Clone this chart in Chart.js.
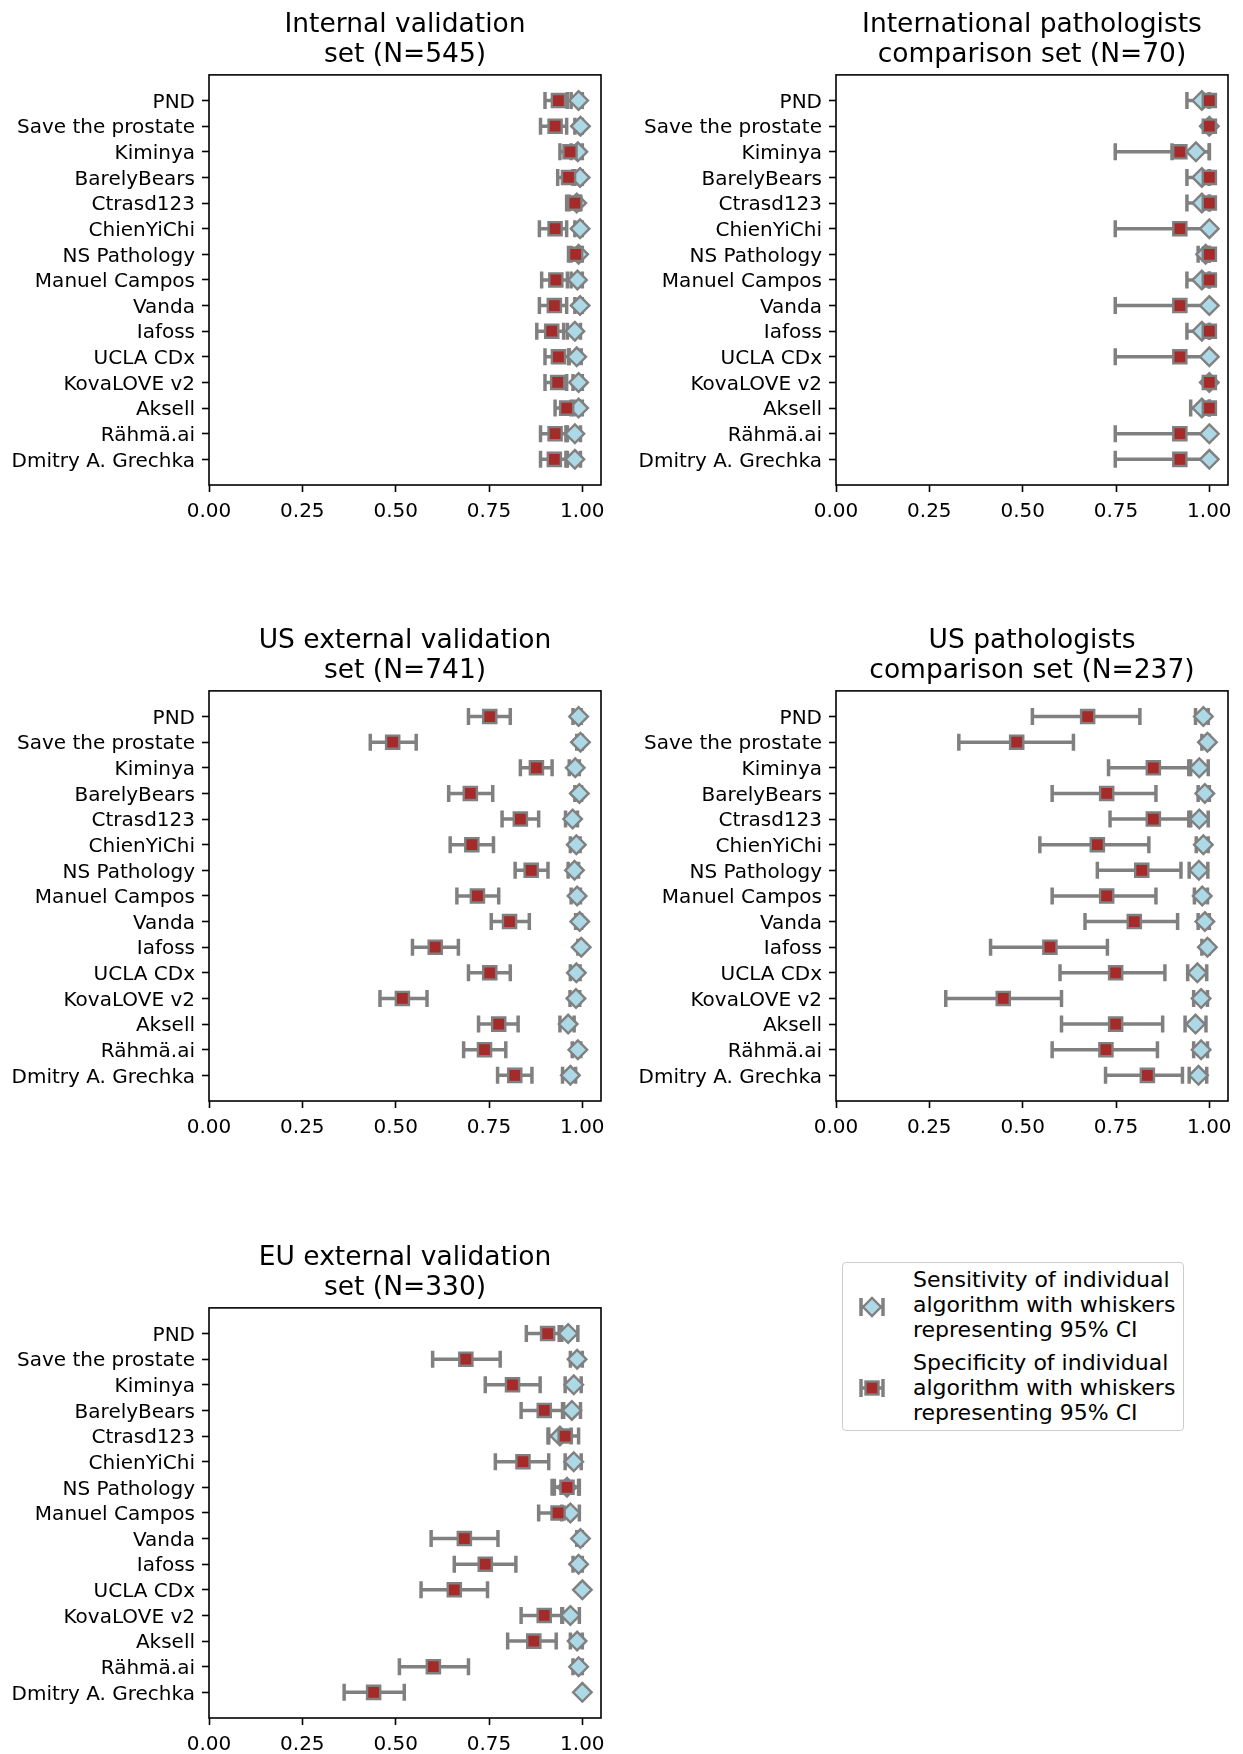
<!DOCTYPE html>
<html>
<head>
<meta charset="utf-8">
<script src="https://cdn.jsdelivr.net/npm/chart.js@4.4.1/dist/chart.umd.min.js"></script>
<style>
  body { margin: 0; width: 1243px; height: 1754px; position: relative; overflow: hidden; background: #fff; font-family: 'DejaVu Sans', sans-serif; }
  canvas { position: absolute; }
  #legend { position: absolute; left: 842px; top: 1262px; width: 340px; height: 167px; border: 1.6px solid #cccccc; border-radius: 4px; }
  .lbl { position: absolute; left: 913px; font-size: 22px; line-height: 25px; color: #000; white-space: nowrap; }
  .mk { position: absolute; }
</style>
</head>
<body>
<canvas id="internal"></canvas>
<canvas id="intl"></canvas>
<canvas id="usExt"></canvas>
<canvas id="usPath"></canvas>
<canvas id="eu"></canvas>

<div id="legend"></div>
<svg class="mk" style="left:852px;top:1294px" width="40" height="26">
  <g stroke="gray" stroke-width="3.5"><line x1="8" y1="13" x2="32" y2="13"/><line x1="9" y1="4" x2="9" y2="22"/><line x1="31" y1="4" x2="31" y2="22"/></g>
  <polygon points="11,13 20,4 29,13 20,22" fill="lightblue" stroke="gray" stroke-width="2.4"/>
</svg>
<div class="lbl" style="top:1267px">Sensitivity of individual<br>algorithm with whiskers<br>representing 95% CI</div>
<svg class="mk" style="left:852px;top:1375px" width="40" height="26">
  <g stroke="gray" stroke-width="3.5"><line x1="8" y1="13" x2="32" y2="13"/><line x1="9" y1="4" x2="9" y2="22"/><line x1="31" y1="4" x2="31" y2="22"/></g>
  <rect x="13.5" y="6.5" width="13" height="13" fill="#a52a2a" stroke="gray" stroke-width="2.4"/>
</svg>
<div class="lbl" style="top:1350px">Specificity of individual<br>algorithm with whiskers<br>representing 95% CI</div>

<script>
// teams, top to bottom
const teams = ['PND', 'Save the prostate', 'Kiminya', 'BarelyBears', 'Ctrasd123', 'ChienYiChi',
  'NS Pathology', 'Manuel Campos', 'Vanda', 'Iafoss', 'UCLA CDx', 'KovaLOVE v2', 'Aksell',
  'Rähmä.ai', 'Dmitry A. Grechka'];
const xTicks = [0, 0.25, 0.5, 0.75, 1.0];

// Internal validation set (N=545)
const intSens   = [0.990, 0.995, 0.988, 0.994, 0.985, 0.994, 0.990, 0.987, 0.994, 0.980, 0.985, 0.990, 0.990, 0.980, 0.980];
const intSensLo = [0.970, 0.980, 0.970, 0.975, 0.965, 0.980, 0.970, 0.970, 0.980, 0.960, 0.965, 0.975, 0.970, 0.960, 0.960];
const intSensHi = [1.000, 1.000, 1.000, 1.000, 0.995, 1.000, 1.000, 1.000, 1.000, 0.995, 0.997, 1.000, 1.000, 0.995, 0.995];
const intSpec   = [0.936, 0.927, 0.967, 0.963, 0.980, 0.927, 0.982, 0.929, 0.925, 0.918, 0.936, 0.934, 0.958, 0.927, 0.925];
const intSpecLo = [0.900, 0.888, 0.940, 0.934, 0.958, 0.885, 0.963, 0.891, 0.885, 0.878, 0.900, 0.900, 0.927, 0.888, 0.888];
const intSpecHi = [0.960, 0.958, 0.985, 0.980, 0.993, 0.958, 0.993, 0.960, 0.958, 0.950, 0.963, 0.958, 0.978, 0.956, 0.956];

// International pathologists comparison set (N=70)
const ipcSens   = [0.980, 1.000, 0.964, 0.980, 0.980, 1.000, 0.990, 0.980, 1.000, 0.980, 1.000, 1.000, 0.980, 1.000, 1.000];
const ipcSensLo = [0.940, 1.000, 0.900, 0.940, 0.940, 1.000, 0.970, 0.940, 1.000, 0.940, 1.000, 1.000, 0.950, 1.000, 1.000];
const ipcSensHi = [1.000, 1.000, 1.000, 1.000, 1.000, 1.000, 1.000, 1.000, 1.000, 1.000, 1.000, 1.000, 1.000, 1.000, 1.000];
const ipcSpec   = [1.000, 1.000, 0.921, 1.000, 1.000, 0.921, 1.000, 1.000, 0.921, 1.000, 0.921, 1.000, 1.000, 0.921, 0.921];
const ipcSpecLo = [1.000, 1.000, 0.748, 1.000, 1.000, 0.748, 1.000, 1.000, 0.748, 1.000, 0.748, 1.000, 1.000, 0.748, 0.748];
const ipcSpecHi = [1.000, 1.000, 1.000, 1.000, 1.000, 1.000, 1.000, 1.000, 1.000, 1.000, 1.000, 1.000, 1.000, 1.000, 1.000];

// US external validation set (N=741)
const useSens   = [0.990, 0.995, 0.981, 0.992, 0.974, 0.984, 0.979, 0.986, 0.993, 0.997, 0.984, 0.983, 0.962, 0.988, 0.968];
const useSensLo = [0.975, 0.985, 0.965, 0.980, 0.955, 0.968, 0.962, 0.970, 0.982, 0.988, 0.968, 0.967, 0.940, 0.973, 0.947];
const useSensHi = [0.997, 1.000, 0.992, 0.998, 0.987, 0.994, 0.990, 0.995, 0.998, 1.000, 0.994, 0.993, 0.978, 0.996, 0.982];
const useSpec   = [0.752, 0.492, 0.877, 0.700, 0.834, 0.704, 0.863, 0.719, 0.805, 0.606, 0.752, 0.518, 0.776, 0.738, 0.819];
const useSpecLo = [0.695, 0.432, 0.834, 0.642, 0.785, 0.646, 0.820, 0.664, 0.756, 0.545, 0.695, 0.458, 0.722, 0.682, 0.773];
const useSpecHi = [0.807, 0.555, 0.919, 0.760, 0.883, 0.762, 0.908, 0.776, 0.858, 0.668, 0.807, 0.584, 0.828, 0.795, 0.865];

// US pathologists comparison set (N=237)
const uspSens   = [0.984, 0.995, 0.973, 0.988, 0.973, 0.984, 0.972, 0.981, 0.988, 0.995, 0.968, 0.978, 0.963, 0.978, 0.971];
const uspSensLo = [0.963, 0.980, 0.950, 0.970, 0.950, 0.965, 0.946, 0.960, 0.970, 0.980, 0.942, 0.958, 0.935, 0.958, 0.946];
const uspSensHi = [0.997, 1.000, 0.997, 1.000, 0.997, 0.997, 0.996, 0.995, 1.000, 1.000, 0.993, 0.995, 0.991, 0.995, 0.993];
const uspSpec   = [0.674, 0.484, 0.850, 0.725, 0.850, 0.700, 0.819, 0.725, 0.799, 0.573, 0.749, 0.448, 0.749, 0.723, 0.834];
const uspSpecLo = [0.526, 0.329, 0.730, 0.579, 0.734, 0.546, 0.700, 0.579, 0.667, 0.414, 0.600, 0.294, 0.604, 0.579, 0.722];
const uspSpecHi = [0.814, 0.636, 0.945, 0.857, 0.945, 0.838, 0.924, 0.857, 0.915, 0.727, 0.881, 0.604, 0.875, 0.861, 0.928];

// EU external validation set (N=330)
const eueSens   = [0.962, 0.986, 0.977, 0.972, 0.940, 0.977, 0.959, 0.968, 0.995, 0.990, 1.000, 0.968, 0.986, 0.990, 1.000];
const eueSensLo = [0.938, 0.968, 0.954, 0.950, 0.910, 0.954, 0.925, 0.945, 0.985, 0.975, 1.000, 0.945, 0.968, 0.975, 1.000];
const eueSensHi = [0.988, 1.000, 0.997, 0.995, 0.970, 0.997, 0.990, 0.992, 1.000, 1.000, 1.000, 0.992, 1.000, 1.000, 1.000];
const eueSpec   = [0.907, 0.688, 0.813, 0.898, 0.954, 0.841, 0.959, 0.935, 0.684, 0.740, 0.657, 0.898, 0.870, 0.601, 0.441];
const eueSpecLo = [0.850, 0.599, 0.740, 0.836, 0.908, 0.767, 0.919, 0.883, 0.595, 0.657, 0.568, 0.836, 0.800, 0.510, 0.362];
const eueSpecHi = [0.945, 0.780, 0.887, 0.947, 0.990, 0.910, 0.992, 0.965, 0.774, 0.822, 0.746, 0.947, 0.930, 0.695, 0.523];

const sets = [
  {id: 'internal', title: ['Internal validation', 'set (N=545)'], sens: [intSens, intSensLo, intSensHi], spec: [intSpec, intSpecLo, intSpecHi]},
  {id: 'intl', title: ['International pathologists', 'comparison set (N=70)'], sens: [ipcSens, ipcSensLo, ipcSensHi], spec: [ipcSpec, ipcSpecLo, ipcSpecHi]},
  {id: 'usExt', title: ['US external validation', 'set (N=741)'], sens: [useSens, useSensLo, useSensHi], spec: [useSpec, useSpecLo, useSpecHi]},
  {id: 'usPath', title: ['US pathologists', 'comparison set (N=237)'], sens: [uspSens, uspSensLo, uspSensHi], spec: [uspSpec, uspSpecLo, uspSpecHi]},
  {id: 'eu', title: ['EU external validation', 'set (N=330)'], sens: [eueSens, eueSensLo, eueSensHi], spec: [eueSpec, eueSpecLo, eueSpecHi]},
];

// where each panel sits on the page
const spots = {
  internal: {left: 0, top: 0, w: 620},
  intl: {left: 627, top: 0, w: 616},
  usExt: {left: 0, top: 616, w: 620},
  usPath: {left: 627, top: 616, w: 616},
  eu: {left: 0, top: 1233, w: 620},
};
const CANVAS_H = 520, AXES_W = 392, YAXIS_W = 209, XAXIS_H = 35;

Chart.defaults.font.family = "'DejaVu Sans', sans-serif";
Chart.defaults.font.size = 20;
Chart.defaults.color = '#000';

// 95% CI whiskers, drawn under the markers
const whiskers = {
  id: 'whiskers',
  beforeDatasetsDraw(chart) {
    const {ctx, scales: {x, y}} = chart;
    ctx.save();
    ctx.strokeStyle = 'gray';
    ctx.lineWidth = 3.5;
    chart.data.datasets.forEach(ds => {
      ds.lo.forEach((lo, i) => {
        const x0 = x.getPixelForValue(lo), x1 = x.getPixelForValue(ds.hi[i]), yy = y.getPixelForValue(i);
        ctx.beginPath();
        ctx.moveTo(x0, yy); ctx.lineTo(x1, yy);
        ctx.moveTo(x0, yy - 8.5); ctx.lineTo(x0, yy + 8.5);
        ctx.moveTo(x1, yy - 8.5); ctx.lineTo(x1, yy + 8.5);
        ctx.stroke();
      });
    });
    ctx.restore();
  }
};

// box around the axes like matplotlib spines
const frame = {
  id: 'frame',
  afterDraw(chart) {
    const {ctx, chartArea: a} = chart;
    ctx.save();
    ctx.strokeStyle = '#000';
    ctx.lineWidth = 1.6;
    ctx.strokeRect(a.left, a.top, a.right - a.left, a.bottom - a.top);
    ctx.restore();
  }
};

const tickGrid = {display: true, drawOnChartArea: false, drawTicks: true, tickLength: 7, tickWidth: 1.6, tickColor: '#000'};

sets.forEach(s => {
  const p = spots[s.id];
  const cv = document.getElementById(s.id);
  cv.width = p.w; cv.height = CANVAS_H;
  cv.style.left = p.left + 'px'; cv.style.top = p.top + 'px';
  cv.style.width = p.w + 'px'; cv.style.height = CANVAS_H + 'px';

  new Chart(cv, {
    type: 'scatter',
    data: {
      datasets: [
        {
          label: 'Sensitivity',
          data: s.sens[0].map((v, i) => ({x: v, y: i})),
          lo: s.sens[1], hi: s.sens[2],
          pointStyle: 'rectRot', pointRadius: 9.3,
          backgroundColor: 'lightblue', borderColor: 'gray', borderWidth: 2.4,
          order: 1,
        },
        {
          label: 'Specificity',
          data: s.spec[0].map((v, i) => ({x: v, y: i})),
          lo: s.spec[1], hi: s.spec[2],
          pointStyle: 'rect', pointRadius: 9.3,
          backgroundColor: '#a52a2a', borderColor: 'gray', borderWidth: 2.4,
          order: 0,
        },
      ],
    },
    options: {
      responsive: false,
      animation: false,
      layout: {padding: {left: 0, right: p.w - YAXIS_W - AXES_W, top: 0, bottom: 0}},
      plugins: {
        legend: {display: false},
        tooltip: {enabled: false},
        title: {
          display: true,
          text: s.title,
          fullSize: false,
          color: '#000',
          font: {size: 26.5, weight: 'normal', lineHeight: 1.13},
          padding: {top: 10, bottom: 5},
        },
      },
      scales: {
        x: {
          type: 'linear', min: 0, max: 1.05,
          afterBuildTicks: axis => { axis.ticks = xTicks.map(v => ({value: v})); },
          afterFit: axis => { axis.height = XAXIS_H; },
          ticks: {callback: v => v.toFixed(2), padding: 8, maxRotation: 0, autoSkip: false},
          grid: tickGrid,
          border: {display: false},
        },
        y: {
          type: 'linear', min: -1, max: 15, reverse: true,
          afterBuildTicks: axis => { axis.ticks = teams.map((t, i) => ({value: i})); },
          afterFit: axis => { axis.width = YAXIS_W; },
          ticks: {callback: v => teams[v], padding: 7, autoSkip: false, labelOffset: 2},
          grid: tickGrid,
          border: {display: false},
        },
      },
    },
    plugins: [whiskers, frame],
  });
});
</script>
</body>
</html>
